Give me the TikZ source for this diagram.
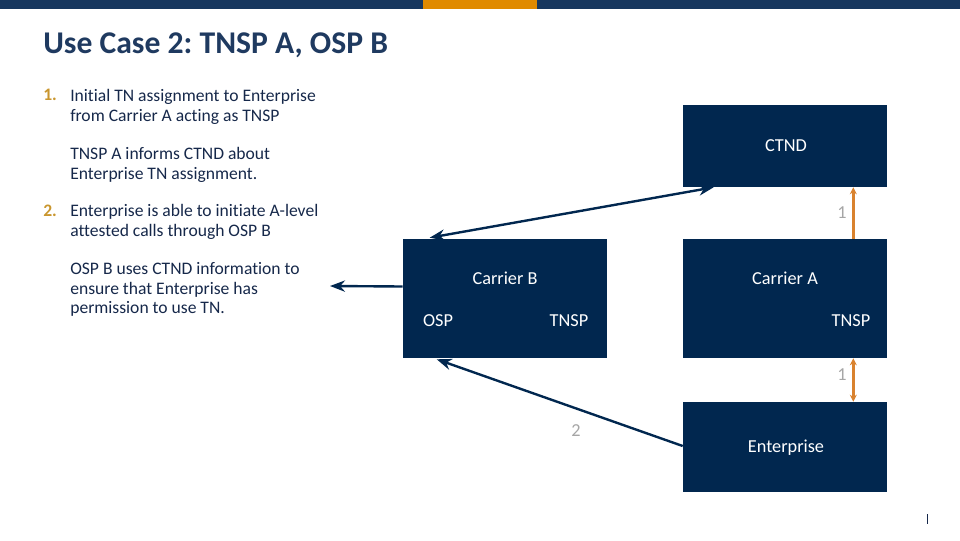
\documentclass[tikz,border=0pt]{standalone}
\usepackage{fontspec}
\setmainfont{Carlito}[RawFeature=-liga]
\usetikzlibrary{arrows.meta, positioning, calc}

\definecolor{boxnavy}{HTML}{01274F}
\definecolor{barnavy}{HTML}{17375E}
\definecolor{barorange}{HTML}{E08A00}
\definecolor{titlenavy}{HTML}{1F3A60}
\definecolor{textnavy}{HTML}{16284A}
\definecolor{numgold}{HTML}{C9962E}
\definecolor{arrorange}{HTML}{D9822E}
\definecolor{lblgrey}{HTML}{A6A6A6}

\begin{document}
\frenchspacing
\begin{tikzpicture}[
    x=0.025cm, y=-0.025cm,
    >=Stealth,
    box/.style={fill=boxnavy, draw=none, minimum width=5.1cm, inner sep=0pt},
    boxtxt/.style={text=white, font=\fontsize{13}{15}\selectfont, inner sep=0pt},
    body/.style={text=textnavy, font=\fontsize{12.5}{13.9}\selectfont, anchor=north west,
                 align=left, inner sep=0pt},
    num/.style={text=numgold, font=\fontsize{12.5}{13.9}\selectfont\bfseries,
                anchor=north west, inner sep=0pt},
    step lbl/.style={text=lblgrey, font=\fontsize{13}{15}\selectfont, inner sep=0pt,
                     anchor=east},
    navyarr/.style={draw=boxnavy, line width=1.7pt},
    orangearr/.style={draw=arrorange, line width=1.9pt,
                      arrows={-Stealth[length=5pt, width=5pt]}},
    orangedbl/.style={orangearr,
                      arrows={Stealth[length=5pt, width=5pt]-Stealth[length=5pt, width=5pt]}}
  ]
  \useasboundingbox (0,0) rectangle (960,540);

  % top bar
  \fill[barnavy] (0,0) rectangle (960,9);
  \fill[barorange] (423,0) rectangle (537,9);

  % title
  \node[text=titlenavy, font=\fontsize{22.5}{25}\selectfont\bfseries, anchor=west,
        inner sep=0pt] (title) at (43,45) {Use Case 2: TNSP A, OSP B};

  % left-hand text
  \node[num] (n1) at (43,89) {1.};
  \node[body] (t1) at (70,89) {Initial TN assignment to Enterprise\\from Carrier A acting as TNSP};
  \node[body] (t1b) at (70,147.5) {TNSP A informs CTND about\\Enterprise TN assignment.};
  \node[num] (n2) at (43,204.5) {2.};
  \node[body] (t2) at (70,204.5) {Enterprise is able to initiate A-level\\attested calls through OSP B};
  \node[body] (t2b) at (70,262.5) {OSP B uses CTND information to\\ensure that Enterprise has\\permission to use TN.};

  % boxes
  \node[box, minimum height=2.05cm] (ctnd) at (785,146) {};
  \node[boxtxt] at (786,146) {CTND};

  \node[box, minimum height=2.975cm] (carB) at (505,298.5) {};
  \node[boxtxt] at (505,278) {Carrier B};
  \node[boxtxt] at (438,321) {OSP};
  \node[boxtxt] at (569,321) {TNSP};

  \node[box, minimum height=2.975cm] (carA) at (785,298.5) {};
  \node[boxtxt] at (785,278) {Carrier A};
  \node[boxtxt] at (851,321) {TNSP};

  \node[box, minimum height=2.25cm] (ent) at (785,447) {};
  \node[boxtxt] at (786,448) {Enterprise};

  % connectors
  \draw[navyarr, <->] ($(ctnd.south west)+(31,0)$) -- ($(carB.north west)+(27,-1)$);
  \draw[orangearr] ($(carA.north east)+(-34,0)$) -- ($(ctnd.south east)+(-34,0)$);
  \node[step lbl] (s1a) at (847,213) {1};
  \draw[orangedbl] ($(carA.south east)+(-34,0)$) -- ($(ent.north east)+(-34,0)$);
  \node[step lbl] (s1b) at (847,375) {1};
  \draw[navyarr, ->] ($(ent.west)+(0,-1)$) -- ($(carB.south west)+(34,1)$);
  \node[step lbl, anchor=center] (s2) at (576,431) {2};
  \coordinate (osptxt) at (330,286);
  \draw[navyarr, ->] ($(carB.west)+(0,-12)$) -- (osptxt);

  % page number mark
  \draw[textnavy, line width=0.6pt] (927,514) -- (927,524);
\end{tikzpicture}
\end{document}
